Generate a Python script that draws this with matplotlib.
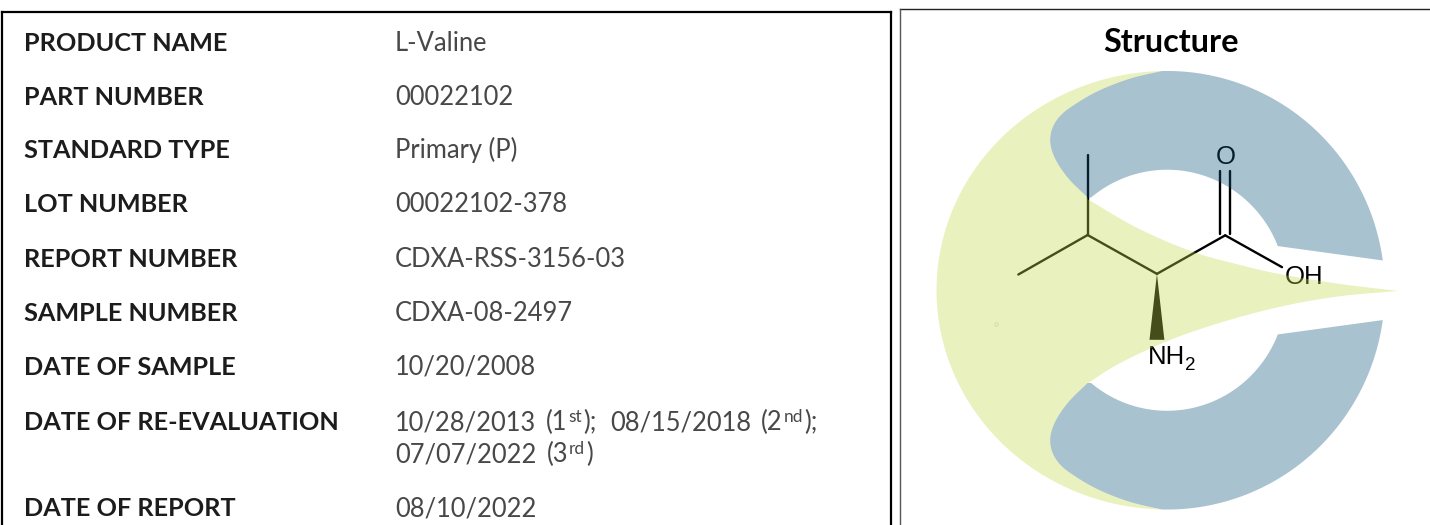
import numpy as np
import matplotlib
matplotlib.use('Agg')
import matplotlib.pyplot as plt
from matplotlib.patches import Polygon

# table contents
field_names = ['PRODUCT NAME', 'PART NUMBER', 'STANDARD TYPE', 'LOT NUMBER', 'REPORT NUMBER',
               'SAMPLE NUMBER', 'DATE OF SAMPLE', 'DATE OF RE-EVALUATION', 'DATE OF REPORT']
field_values = ['L-Valine', '00022102', 'Primary (P)', '00022102-378', 'CDXA-RSS-3156-03',
                'CDXA-08-2497', '10/20/2008', None, '08/10/2022']
row_baselines = [51, 105, 158, 212, 267, 321, 375, 430, 516]
reeval_line1 = [('10/28/2013', False), ('(1', False), ('st', True), (');', False),
                ('08/15/2018', False), ('(2', False), ('nd', True), (');', False)]
reeval_line2 = [('07/07/2022', False), ('(3', False), ('rd', True), (')', False)]

blue_back = [(555, 590), (500, 535), (462, 480), (445, 430), (450, 385), (475, 345), (520, 310),
             (590, 270), (680, 235), (775, 212)]
green_upper = [(555, 595), (700, 680), (860, 750), (1000, 790), (1130, 820), (1300, 848), (1472, 869)]
green_lower = [(1472, 869), (1300, 885), (1130, 915), (960, 960), (800, 1015), (650, 1085), (555, 1145)]

LABEL_FONT = 'Lato'
MOL_FONT = 'Liberation Sans'
TEXT_SIZE = 18.4
VALUE_COLOR = '#484848'
MID_Y = 867  # logo is symmetric around this


def smooth(points, steps=14):
    # catmull-rom through the outline points
    pts = np.array(points, dtype=float)
    pts = np.vstack([2 * pts[0] - pts[1], pts, 2 * pts[-1] - pts[-2]])
    out = []
    for i in range(1, len(pts) - 2):
        p0, p1, p2, p3 = pts[i - 1], pts[i], pts[i + 1], pts[i + 2]
        for t in np.linspace(0, 1, steps, endpoint=False):
            out.append(0.5 * (2 * p1 + (p2 - p0) * t + (2 * p0 - 5 * p1 + 4 * p2 - p3) * t ** 2
                              + (3 * p1 - p0 - 3 * p2 + p3) * t ** 3))
    out.append(pts[-2])
    return np.array(out)


def arc(cx, cy, rx, ry, start, end, n=80):
    a = np.radians(np.linspace(start, end, n))
    return np.column_stack([cx + rx * np.cos(a), cy + ry * np.sin(a)])


def to_px(xy):
    # crop was 530x525 shown at 1568 square
    xy = np.asarray(xy, dtype=float)
    return np.column_stack([xy[:, 0] / 2.958 + 900, xy[:, 1] / 2.987])


def flip(xy):
    xy = np.array(xy, dtype=float)
    xy[:, 1] = 2 * MID_Y - xy[:, 1]
    return xy


def draw_runs(ax, renderer, x, y, runs, gaps):
    # the source font sets these wider than Lato, so the gaps are opened up by hand
    for (txt, sup), gap in zip(runs, gaps):
        t = ax.text(x + gap, y - 8 if sup else y, txt, fontsize=12.5 if sup else TEXT_SIZE, color=VALUE_COLOR,
                    family=LABEL_FONT, va='baseline', ha='left')
        x = t.get_window_extent(renderer).x1


fig = plt.figure(figsize=(14.3, 5.25), dpi=100)
ax = fig.add_axes([0, 0, 1, 1])
ax.set_xlim(0, 1430)
ax.set_ylim(525, 0)
ax.axis('off')
renderer = fig.canvas.get_renderer()

# box borders
ax.plot([2, 2], [12, 525], color='black', lw=1.6)
ax.plot([2, 891], [12, 12], color='black', lw=1.6)
ax.plot([891, 891], [12, 525], color='black', lw=1.6)
ax.plot([900, 1430], [9, 9], color='#222222', lw=1.0)
ax.plot([900, 900], [9, 525], color='#555555', lw=1.0)

# table text
for name, value, y in zip(field_names, field_values, row_baselines):
    ax.text(24, y, name, fontsize=18.2, fontweight='bold', color='#1c1c1c', family=LABEL_FONT, va='baseline')
    if value is not None:
        ax.text(395, y, value, fontsize=TEXT_SIZE, color=VALUE_COLOR, family=LABEL_FONT, va='baseline')
draw_runs(ax, renderer, 395, row_baselines[7], reeval_line1, [0, 10, 1, 1, 14, 9, 1, 1])
draw_runs(ax, renderer, 395, row_baselines[7] + 32, reeval_line2, [0, 10, 1, 1])

ax.text(1170.5, 52, 'Structure', fontsize=23.3, fontweight='bold', color='black', family=LABEL_FONT,
        ha='center', va='baseline')

# molecule first, logo goes over it translucent so the bonds pick up its tint
bonds = [((350, 820), (555, 702)), ((555, 702), (555, 462)), ((555, 702), (760, 818)),
         ((760, 818), (962, 703)), ((962, 703), (1130, 798)),
         ((948, 510), (948, 700)), ((976, 510), (976, 700))]
for a, b in bonds:
    line = to_px([a, b])
    ax.plot(line[:, 0], line[:, 1], color='black', lw=1.7, solid_capstyle='round', zorder=2)
ax.add_patch(Polygon(to_px([(760, 818), (738, 1015), (782, 1015)]), closed=True, fc='black', ec='none', zorder=2))
ax.text(1216, 164, 'O', fontsize=18.5, family=MOL_FONT, color='black', va='baseline', ha='left', zorder=2)
ax.text(1284.5, 284, 'OH', fontsize=18.5, family=MOL_FONT, color='black', va='baseline', ha='left', zorder=2)
ax.text(1148, 364, 'NH', fontsize=18.5, family=MOL_FONT, color='black', va='baseline', ha='left', zorder=2)
ax.text(1185.5, 370, '2', fontsize=13.5, family=MOL_FONT, color='black', va='baseline', ha='left', zorder=2)

# logo, colours chosen so that alpha over white and over black both come out right
LOGO_ALPHA = 0.36
green_color = (194 / 255, 217 / 255, 75 / 255)
blue_color = (17 / 255, 86 / 255, 125 / 255)

back = smooth(blue_back)
green_arc = arc(790, MID_Y, 682, 655, 268, 92)  # top, round the left, to bottom
green = np.vstack([green_arc[::-1], back[::-1], smooth(green_upper), smooth(green_lower), flip(back)])
ax.add_patch(Polygon(to_px(green), closed=True, fc=green_color, ec='none', alpha=LOGO_ALPHA, zorder=3))

# upper blue band: outer edge, inner edge, then back round the left end
outer_end = 360 - np.degrees(np.arcsin((MID_Y - 778) / 655))
inner_end = 360 - np.degrees(np.arcsin((MID_Y - 735) / 360))
inner_stop = 180 + np.degrees(np.arcsin((MID_Y - 590) / 360))
outer = arc(790, MID_Y, 644, 655, 268, outer_end)
inner = arc(790, MID_Y, 352, 360, inner_end, inner_stop)
upper = np.vstack([outer, inner, back])
for band in (upper, flip(upper)):
    ax.add_patch(Polygon(to_px(band), closed=True, fc=blue_color, ec='none', alpha=LOGO_ALPHA, zorder=3))

# small speck on the logo
speck = to_px([(284, 967)])
ax.plot(speck[:, 0], speck[:, 1], 'o', ms=2.5, mfc='none', mec='#cfd6a8', mew=0.5, zorder=4)

fig.savefig('out.png', dpi=100)
